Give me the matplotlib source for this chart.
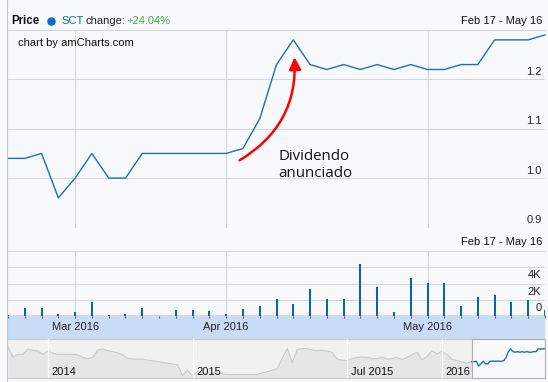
import matplotlib
matplotlib.use("Agg")
import matplotlib.pyplot as plt
import numpy as np
from matplotlib.patches import FancyArrowPatch, Rectangle
from matplotlib.lines import Line2D

# ---------------- data ----------------
price = [1.04, 1.04, 1.05, 0.96, 1.00, 1.05, 1.00, 1.00, 1.05, 1.05, 1.05,
         1.05, 1.05, 1.05, 1.06, 1.12, 1.23, 1.28, 1.23, 1.22, 1.23, 1.22,
         1.23, 1.22, 1.23, 1.22, 1.22, 1.23, 1.23, 1.28, 1.28, 1.28, 1.29]
volume = [120, 980, 980, 200, 490, 1720, 120, 245, 980, 0, 740, 740, 610,
          245, 860, 1230, 2090, 1470, 3310, 2090, 2090, 6380, 3560, 490,
          4660, 4050, 4050, 1230, 2330, 2580, 1720, 1960, 740]
month_idx = [4, 13, 25]
month_labels = ["Mar 2016", "Apr 2016", "May 2016"]
price_ticks = [0.9, 1.0, 1.1, 1.2]
price_tick_labels = ["0.9", "1.0", "1.1", "1.2"]
vol_ticks = [0, 2000, 4000]
vol_tick_labels = ["0", "2K", "4K"]
vol_grid = [2000, 4000, 6000]

# navigator history (before the selected period)
nav_hist = [1.32, 1.13, 1.18, 1.18, 1.28, 1.26, 1.24, 1.18, 1.24, 1.20, 1.18,
            1.18, 1.18, 1.18, 1.17, 1.12, 1.10, 1.12, 1.26, 1.28, 1.25, 1.23,
            1.21, 1.17, 1.10, 1.09, 1.09, 1.09, 1.07, 1.06, 1.04, 1.03, 1.01,
            1.00, 0.98, 0.78, 0.88, 0.77, 0.86, 0.82, 0.82, 0.83, 0.83, 0.81,
            0.80, 0.80, 0.80, 0.80, 0.80, 0.80, 0.80, 0.83, 0.85, 0.88,
            0.91, 1.10, 1.29, 1.02, 1.27, 1.29, 1.29, 1.26, 1.25, 1.26, 1.24,
            1.22, 1.09, 1.07, 1.06, 1.10, 1.12, 1.13, 1.12, 1.10, 1.10, 1.13,
            1.09, 1.10, 1.12, 1.08, 1.12, 1.17, 1.22, 1.08, 1.13, 1.25, 1.19,
            1.23, 1.18, 1.09, 1.06, 1.04, 1.01, 1.04]
nav_year_idx = [8, 37, 68, 87]
nav_year_labels = ["2014", "2015", "Jul 2015", "2016"]

ticker = "SCT"
change_txt = "+24.04%"
range_txt = "Feb 17 - May 16"
credit_txt = "chart by amCharts.com"
note_txt = "Dividendo\nanunciado"

# ---------------- style ----------------
W, H, DPI = 548, 382, 100
PT = 72.0 / DPI
BG = "#f7f9fb"
GRID = "#d4d6d9"
LINE = "#1c6fc0"
BAR = "#0b62b3"
FONT = ["Liberation Sans", "DejaVu Sans"]
plt.rcParams["font.family"] = FONT

fig = plt.figure(figsize=(W / DPI, H / DPI), dpi=DPI, facecolor=BG)


def ax_px(l, t, r, b, **kw):
    return fig.add_axes([l / W, 1 - b / H, (r - l) / W, (b - t) / H], **kw)


n = len(price)
x = np.arange(n)

# ---------------- price panel ----------------
axp = ax_px(8, 30, 545, 227.5, facecolor=BG)
axp.set_xlim(0, n - 1)
axp.set_ylim(0.9, 1.3)
for v in price_ticks:
    axp.axhline(v, color=GRID, lw=0.8, zorder=0)
for m in month_idx:
    axp.axvline(m, color=GRID, lw=0.8, zorder=0)
axp.plot(x, price, color=LINE, lw=1.0, zorder=3, clip_on=False)
for sp in ["right", "bottom", "left"]:
    axp.spines[sp].set_visible(False)
axp.spines["top"].set_color(GRID)
axp.spines["top"].set_linewidth(0.8)
axp.set_xticks([])
axp.set_yticks([])
for v, lab in zip(price_ticks, price_tick_labels):
    axp.annotate(lab, xy=(1, v), xycoords=axp.get_yaxis_transform(),
                 xytext=(-3.5 * PT, 7.5 * PT), textcoords="offset points",
                 ha="right", va="center", fontsize=8, color="#222222")

# annotation arrow + text
arrow = FancyArrowPatch(posA=(13.8, 1.036), posB=(17.07, 1.245),
                        connectionstyle="arc3,rad=0.3",
                        arrowstyle="-|>,head_length=0.45,head_width=0.22",
                        mutation_scale=16, color="#ff0000", lw=1.8,
                        shrinkA=0, shrinkB=0, zorder=4)
axp.add_patch(arrow)
axp.text(16.1, 1.0028, note_txt, fontsize=10.8, family=["Open Sans", "DejaVu Sans"],
         color="#111111", ha="left", va="baseline", linespacing=1.2)

# ---------------- volume panel ----------------
axv = ax_px(8, 251, 545, 316, facecolor=BG)
axv.set_xlim(0, n - 1)
axv.set_ylim(0, 8000)
for v in vol_grid:
    axv.axhline(v, color=GRID, lw=0.8, zorder=0)
for m in month_idx:
    axv.axvline(m, color=GRID, lw=0.8, zorder=0)
axv.vlines(x, 0, volume, colors=BAR, lw=1.6 * PT, zorder=3, antialiased=False)
for sp in ["right", "left"]:
    axv.spines[sp].set_visible(False)
axv.spines["top"].set_color(GRID)
axv.spines["top"].set_linewidth(0.8)
axv.spines["bottom"].set_color("#555c66")
axv.spines["bottom"].set_linewidth(1.0)
axv.spines["bottom"].set_zorder(4)
axv.set_xticks([])
axv.set_yticks([])
for v, lab in zip(vol_ticks, vol_tick_labels):
    axv.annotate(lab, xy=(1, v), xycoords=axv.get_yaxis_transform(),
                 xytext=(-3.5 * PT, 8.0 * PT), textcoords="offset points",
                 ha="right", va="center", fontsize=8, color="#222222")

# ---------------- category band ----------------
axb = ax_px(8, 316, 545, 339, facecolor="#c9dcf6")
axb.set_xlim(0, n - 1)
axb.set_ylim(0, 1)
for sp in axb.spines.values():
    sp.set_visible(False)
axb.set_yticks([])
axb.set_xticks(x)
axb.set_xticklabels([])
axb.tick_params(axis="x", which="both", bottom=False, top=True, direction="in",
                length=2.5 * PT, width=0.8, color="#555c66")
for m, lab in zip(month_idx, month_labels):
    axb.text(m, 0.5, lab, ha="center", va="center", fontsize=8, color="#222222")

# ---------------- navigator ----------------
axn = ax_px(8, 339, 545, 378, facecolor=BG)
nh = len(nav_hist)
x_hist = np.arange(nh)
step_recent = 0.459
x_recent = (nh - 1) + np.arange(n) * step_recent
xmax = x_recent[-1]
axn.set_xlim(0, xmax)
ylo, yhi = 0.733, 1.469
axn.set_ylim(ylo, yhi)
axn.add_patch(Rectangle((0, ylo), nh - 1, yhi - ylo, facecolor="#f1f1f1",
                        edgecolor="none", zorder=0))
axn.fill_between(x_hist, nav_hist, ylo, color="#e6e6e6", lw=0, zorder=1)
axn.plot(x_hist, nav_hist, color="#c9c9c9", lw=0.8, zorder=2)
for xi in nav_year_idx:
    axn.axvline(xi, color="white", lw=1.0, zorder=3)
for xi, lab in zip(nav_year_idx, nav_year_labels):
    axn.annotate(lab, xy=(xi, 0), xycoords=axn.get_xaxis_transform(),
                 xytext=(3.5 * PT, 6.3 * PT), textcoords="offset points",
                 ha="left", va="center", fontsize=8, color="#111111", zorder=4)
axn.plot(x_recent, price, color=LINE, lw=1.0, zorder=3)
axn.add_patch(Rectangle((nh - 1, ylo), xmax - (nh - 1), yhi - ylo,
                        facecolor="none", edgecolor="#b0b0b0", lw=0.8,
                        zorder=5, clip_on=False))
for sp in axn.spines.values():
    sp.set_color("#c8c8c8")
    sp.set_linewidth(0.8)
axn.spines["right"].set_visible(False)
axn.spines["left"].set_visible(False)
axn.set_xticks([])
axn.set_yticks([])

# ---------------- outer frame line ----------------
fig.add_artist(Line2D([6.5 / W, 6.5 / W], [0, 1], color="#c8c8c8", lw=0.8))

# ---------------- header texts ----------------
def fig_text(px, py, s, **kw):
    fig.text(px / W, 1 - py / H, s, **kw)

fig_text(11, 21.3, "Price", fontsize=8.3, weight="bold", color="#111111",
         ha="left", va="center")
fig.add_artist(Line2D([50.7 / W], [1 - 20.5 / H], marker="o", ms=8.5 * PT,
                      color="#0f6fc6", mec="none", ls="none"))
fig_text(61.3, 21.3, ticker, fontsize=8, color="#1565c0", ha="left", va="center")
fig_text(85, 21.3, "change:", fontsize=8, color="#222222", ha="left", va="center")
fig_text(126.7, 21.3, change_txt, fontsize=8, color="#45a845", ha="left", va="center")
fig_text(542, 21.3, range_txt, fontsize=8, color="#111111", ha="right", va="center")
fig_text(18, 42.5, credit_txt, fontsize=8, color="#111111", ha="left", va="center")
fig_text(542, 242.3, range_txt, fontsize=8, color="#111111", ha="right", va="center")

fig.savefig("out.png", dpi=DPI, facecolor=BG)
